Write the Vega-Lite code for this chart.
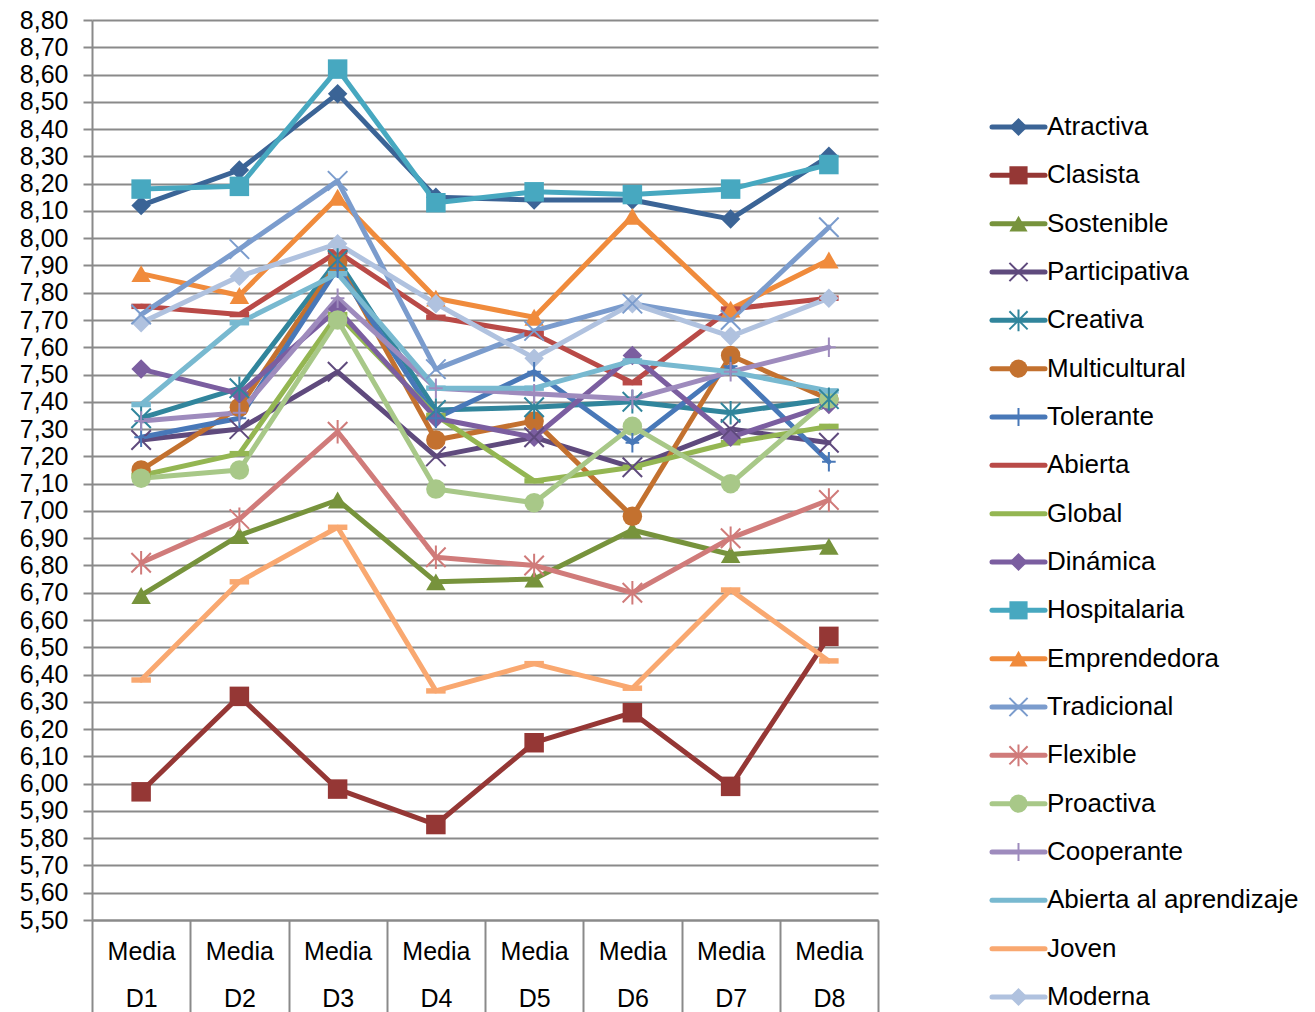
{
"$schema":"https://vega.github.io/schema/vega-lite/v6.json",
"padding":{"left":5,"top":8,"right":0,"bottom":0},
"config":{"view":{"stroke":null},"font":"Liberation Sans","axis":{"labelFont":"Liberation Sans"},"text":{"font":"Liberation Sans"}},
"datasets":{"d":[
{"series":"Atractiva","cat":"Media D1","value":8.12},{"series":"Atractiva","cat":"Media D2","value":8.25},{"series":"Atractiva","cat":"Media D3","value":8.53},{"series":"Atractiva","cat":"Media D4","value":8.15},{"series":"Atractiva","cat":"Media D5","value":8.14},{"series":"Atractiva","cat":"Media D6","value":8.14},{"series":"Atractiva","cat":"Media D7","value":8.07},{"series":"Atractiva","cat":"Media D8","value":8.30},
{"series":"Clasista","cat":"Media D1","value":5.97},{"series":"Clasista","cat":"Media D2","value":6.32},{"series":"Clasista","cat":"Media D3","value":5.98},{"series":"Clasista","cat":"Media D4","value":5.85},{"series":"Clasista","cat":"Media D5","value":6.15},{"series":"Clasista","cat":"Media D6","value":6.26},{"series":"Clasista","cat":"Media D7","value":5.99},{"series":"Clasista","cat":"Media D8","value":6.54},
{"series":"Sostenible","cat":"Media D1","value":6.69},{"series":"Sostenible","cat":"Media D2","value":6.91},{"series":"Sostenible","cat":"Media D3","value":7.04},{"series":"Sostenible","cat":"Media D4","value":6.74},{"series":"Sostenible","cat":"Media D5","value":6.75},{"series":"Sostenible","cat":"Media D6","value":6.93},{"series":"Sostenible","cat":"Media D7","value":6.84},{"series":"Sostenible","cat":"Media D8","value":6.87},
{"series":"Participativa","cat":"Media D1","value":7.26},{"series":"Participativa","cat":"Media D2","value":7.30},{"series":"Participativa","cat":"Media D3","value":7.51},{"series":"Participativa","cat":"Media D4","value":7.20},{"series":"Participativa","cat":"Media D5","value":7.27},{"series":"Participativa","cat":"Media D6","value":7.16},{"series":"Participativa","cat":"Media D7","value":7.30},{"series":"Participativa","cat":"Media D8","value":7.25},
{"series":"Creativa","cat":"Media D1","value":7.34},{"series":"Creativa","cat":"Media D2","value":7.45},{"series":"Creativa","cat":"Media D3","value":7.92},{"series":"Creativa","cat":"Media D4","value":7.37},{"series":"Creativa","cat":"Media D5","value":7.38},{"series":"Creativa","cat":"Media D6","value":7.40},{"series":"Creativa","cat":"Media D7","value":7.36},{"series":"Creativa","cat":"Media D8","value":7.41},
{"series":"Multicultural","cat":"Media D1","value":7.15},{"series":"Multicultural","cat":"Media D2","value":7.38},{"series":"Multicultural","cat":"Media D3","value":7.91},{"series":"Multicultural","cat":"Media D4","value":7.26},{"series":"Multicultural","cat":"Media D5","value":7.33},{"series":"Multicultural","cat":"Media D6","value":6.98},{"series":"Multicultural","cat":"Media D7","value":7.57},{"series":"Multicultural","cat":"Media D8","value":7.41},
{"series":"Tolerante","cat":"Media D1","value":7.27},{"series":"Tolerante","cat":"Media D2","value":7.34},{"series":"Tolerante","cat":"Media D3","value":7.89},{"series":"Tolerante","cat":"Media D4","value":7.34},{"series":"Tolerante","cat":"Media D5","value":7.51},{"series":"Tolerante","cat":"Media D6","value":7.25},{"series":"Tolerante","cat":"Media D7","value":7.53},{"series":"Tolerante","cat":"Media D8","value":7.18},
{"series":"Abierta","cat":"Media D1","value":7.75},{"series":"Abierta","cat":"Media D2","value":7.72},{"series":"Abierta","cat":"Media D3","value":7.95},{"series":"Abierta","cat":"Media D4","value":7.71},{"series":"Abierta","cat":"Media D5","value":7.65},{"series":"Abierta","cat":"Media D6","value":7.47},{"series":"Abierta","cat":"Media D7","value":7.74},{"series":"Abierta","cat":"Media D8","value":7.78},
{"series":"Global","cat":"Media D1","value":7.13},{"series":"Global","cat":"Media D2","value":7.21},{"series":"Global","cat":"Media D3","value":7.72},{"series":"Global","cat":"Media D4","value":7.35},{"series":"Global","cat":"Media D5","value":7.11},{"series":"Global","cat":"Media D6","value":7.16},{"series":"Global","cat":"Media D7","value":7.25},{"series":"Global","cat":"Media D8","value":7.31},
{"series":"Dinámica","cat":"Media D1","value":7.52},{"series":"Dinámica","cat":"Media D2","value":7.43},{"series":"Dinámica","cat":"Media D3","value":7.74},{"series":"Dinámica","cat":"Media D4","value":7.34},{"series":"Dinámica","cat":"Media D5","value":7.27},{"series":"Dinámica","cat":"Media D6","value":7.57},{"series":"Dinámica","cat":"Media D7","value":7.27},{"series":"Dinámica","cat":"Media D8","value":7.39},
{"series":"Hospitalaria","cat":"Media D1","value":8.18},{"series":"Hospitalaria","cat":"Media D2","value":8.19},{"series":"Hospitalaria","cat":"Media D3","value":8.62},{"series":"Hospitalaria","cat":"Media D4","value":8.13},{"series":"Hospitalaria","cat":"Media D5","value":8.17},{"series":"Hospitalaria","cat":"Media D6","value":8.16},{"series":"Hospitalaria","cat":"Media D7","value":8.18},{"series":"Hospitalaria","cat":"Media D8","value":8.27},
{"series":"Emprendedora","cat":"Media D1","value":7.87},{"series":"Emprendedora","cat":"Media D2","value":7.79},{"series":"Emprendedora","cat":"Media D3","value":8.15},{"series":"Emprendedora","cat":"Media D4","value":7.78},{"series":"Emprendedora","cat":"Media D5","value":7.71},{"series":"Emprendedora","cat":"Media D6","value":8.08},{"series":"Emprendedora","cat":"Media D7","value":7.74},{"series":"Emprendedora","cat":"Media D8","value":7.92},
{"series":"Tradicional","cat":"Media D1","value":7.72},{"series":"Tradicional","cat":"Media D2","value":7.96},{"series":"Tradicional","cat":"Media D3","value":8.21},{"series":"Tradicional","cat":"Media D4","value":7.52},{"series":"Tradicional","cat":"Media D5","value":7.66},{"series":"Tradicional","cat":"Media D6","value":7.76},{"series":"Tradicional","cat":"Media D7","value":7.70},{"series":"Tradicional","cat":"Media D8","value":8.04},
{"series":"Flexible","cat":"Media D1","value":6.81},{"series":"Flexible","cat":"Media D2","value":6.97},{"series":"Flexible","cat":"Media D3","value":7.29},{"series":"Flexible","cat":"Media D4","value":6.83},{"series":"Flexible","cat":"Media D5","value":6.80},{"series":"Flexible","cat":"Media D6","value":6.70},{"series":"Flexible","cat":"Media D7","value":6.90},{"series":"Flexible","cat":"Media D8","value":7.04},
{"series":"Proactiva","cat":"Media D1","value":7.12},{"series":"Proactiva","cat":"Media D2","value":7.15},{"series":"Proactiva","cat":"Media D3","value":7.70},{"series":"Proactiva","cat":"Media D4","value":7.08},{"series":"Proactiva","cat":"Media D5","value":7.03},{"series":"Proactiva","cat":"Media D6","value":7.31},{"series":"Proactiva","cat":"Media D7","value":7.10},{"series":"Proactiva","cat":"Media D8","value":7.41},
{"series":"Cooperante","cat":"Media D1","value":7.33},{"series":"Cooperante","cat":"Media D2","value":7.36},{"series":"Cooperante","cat":"Media D3","value":7.78},{"series":"Cooperante","cat":"Media D4","value":7.45},{"series":"Cooperante","cat":"Media D5","value":7.43},{"series":"Cooperante","cat":"Media D6","value":7.41},{"series":"Cooperante","cat":"Media D7","value":7.51},{"series":"Cooperante","cat":"Media D8","value":7.60},
{"series":"\u00a0Abierta al aprendizaje","cat":"Media D1","value":7.39},{"series":"\u00a0Abierta al aprendizaje","cat":"Media D2","value":7.69},{"series":"\u00a0Abierta al aprendizaje","cat":"Media D3","value":7.87},{"series":"\u00a0Abierta al aprendizaje","cat":"Media D4","value":7.45},{"series":"\u00a0Abierta al aprendizaje","cat":"Media D5","value":7.45},{"series":"\u00a0Abierta al aprendizaje","cat":"Media D6","value":7.55},{"series":"\u00a0Abierta al aprendizaje","cat":"Media D7","value":7.51},{"series":"\u00a0Abierta al aprendizaje","cat":"Media D8","value":7.44},
{"series":"Joven","cat":"Media D1","value":6.38},{"series":"Joven","cat":"Media D2","value":6.74},{"series":"Joven","cat":"Media D3","value":6.94},{"series":"Joven","cat":"Media D4","value":6.34},{"series":"Joven","cat":"Media D5","value":6.44},{"series":"Joven","cat":"Media D6","value":6.35},{"series":"Joven","cat":"Media D7","value":6.71},{"series":"Joven","cat":"Media D8","value":6.45},
{"series":"Moderna","cat":"Media D1","value":7.69},{"series":"Moderna","cat":"Media D2","value":7.86},{"series":"Moderna","cat":"Media D3","value":7.98},{"series":"Moderna","cat":"Media D4","value":7.76},{"series":"Moderna","cat":"Media D5","value":7.56},{"series":"Moderna","cat":"Media D6","value":7.76},{"series":"Moderna","cat":"Media D7","value":7.64},{"series":"Moderna","cat":"Media D8","value":7.78}
]},
"data":{"name":"d"},
"spacing":110,
"hconcat":[
{
"width":786,"height":900,
"encoding":{
"x":{"field":"cat","type":"nominal","scale":{"paddingInner":0,"paddingOuter":0},
"axis":{"title":null,"labelAngle":0,"labelExpr":"split(datum.label,' ')","labelFontSize":25,"labelLineHeight":47,"labelPadding":-73,"labelColor":"#000","labelOverlap":false,"tickBand":"extent","tickSize":92,"tickWidth":2,"tickColor":"#8a8a8a","domainColor":"#8a8a8a","domainWidth":2}},
"y":{"field":"value","type":"quantitative","scale":{"domain":[5.5,8.8],"nice":false,"zero":false},
"axis":{"title":null,"values":[5.5,5.6,5.7,5.8,5.9,6.0,6.1,6.2,6.3,6.4,6.5,6.6,6.7,6.8,6.9,7.0,7.1,7.2,7.3,7.4,7.5,7.6,7.7,7.8,7.9,8.0,8.1,8.2,8.3,8.4,8.5,8.6,8.7,8.8],"labelExpr":"replace(format(datum.value,'.2f'),'.',',')","labelFontSize":25,"labelPadding":15,"labelColor":"#000","labelOverlap":false,"tickSize":9,"tickWidth":2,"tickColor":"#8a8a8a","domainColor":"#8a8a8a","domainWidth":2,"grid":true,"gridColor":"#8a8a8a","gridWidth":2,"minExtent":87,"maxExtent":87}}
},
"layer":[
{"mark":{"type":"line","strokeWidth":5,"strokeCap":"round","strokeJoin":"round"},
"encoding":{"color":{"field":"series","type":"nominal","legend":null,
"scale":{"domain":["Atractiva","Clasista","Sostenible","Participativa","Creativa","Multicultural","Tolerante","Abierta","Global","Dinámica","Hospitalaria","Emprendedora","Tradicional","Flexible","Proactiva","Cooperante","\u00a0Abierta al aprendizaje","Joven","Moderna"],
"range":["#3B6496","#953735","#77933C","#5F4A7D","#31859C","#C3712F","#4878B8","#B94A47","#94B652","#7B5EA0","#47A8C0","#F08B3C","#7B9CCD","#D07B7A","#A8C888","#9E8BBD","#78B9D0","#F9A870","#B0C2DF"]}}}},
{"transform":[{"filter":{"field":"series","oneOf":["Atractiva","Clasista","Sostenible","Multicultural","Abierta","Global","Dinámica","Hospitalaria","Emprendedora","Proactiva","\u00a0Abierta al aprendizaje","Joven","Moderna"]}}],
"mark":{"type":"point","filled":true,"opacity":1,"size":380},
"encoding":{"color":{"field":"series","type":"nominal","legend":null},
"shape":{"field":"series","type":"nominal","legend":null,
"scale":{"domain":["Atractiva","Clasista","Sostenible","Participativa","Creativa","Multicultural","Tolerante","Abierta","Global","Dinámica","Hospitalaria","Emprendedora","Tradicional","Flexible","Proactiva","Cooperante","\u00a0Abierta al aprendizaje","Joven","Moderna"],
"range":["diamond","square","triangle-up","M-1,-1L1,1M-1,1L1,-1","M-1,-1L1,1M-1,1L1,-1M0,-1.2L0,1.2","circle","M-0.7,0L0.7,0M0,-1L0,1","M-1,-0.28L1,-0.28L1,0.28L-1,0.28Z","M-1,-0.28L1,-0.28L1,0.28L-1,0.28Z","diamond","square","triangle-up","M-1,-1L1,1M-1,1L1,-1","M-1,-1L1,1M-1,1L1,-1M0,-1.2L0,1.2","circle","M-0.7,0L0.7,0M0,-1L0,1","M-1,-0.28L1,-0.28L1,0.28L-1,0.28Z","M-1,-0.28L1,-0.28L1,0.28L-1,0.28Z","diamond"]}}}},
{"transform":[{"filter":{"field":"series","oneOf":["Participativa","Creativa","Tolerante","Tradicional","Flexible","Cooperante"]}}],
"mark":{"type":"point","filled":false,"opacity":1,"size":380,"strokeWidth":2},
"encoding":{"color":{"field":"series","type":"nominal","legend":null},"shape":{"field":"series","type":"nominal","legend":null}}}
]
},
{
"width":327,"height":1000,
"transform":[{"filter":{"field":"cat","equal":"Media D1"}}],
"encoding":{"y":{"field":"series","type":"nominal","sort":["Atractiva","Clasista","Sostenible","Participativa","Creativa","Multicultural","Tolerante","Abierta","Global","Dinámica","Hospitalaria","Emprendedora","Tradicional","Flexible","Proactiva","Cooperante","\u00a0Abierta al aprendizaje","Joven","Moderna"],"scale":{"type":"point","padding":0,"range":[107,977]},"axis":null}},
"layer":[
{"mark":{"type":"rule","strokeWidth":5,"strokeCap":"round"},
"encoding":{"x":{"datum":2,"type":"quantitative","scale":{"domain":[0,327],"nice":false,"zero":false},"axis":null},"x2":{"datum":55},"color":{"field":"series","type":"nominal","legend":null}}},
{"transform":[{"filter":{"field":"series","oneOf":["Atractiva","Clasista","Sostenible","Multicultural","Dinámica","Hospitalaria","Emprendedora","Proactiva","Moderna"]}}],
"mark":{"type":"point","filled":true,"opacity":1,"size":330},
"encoding":{"x":{"datum":28.5,"type":"quantitative"},"color":{"field":"series","type":"nominal","legend":null},"shape":{"field":"series","type":"nominal","legend":null}}},
{"transform":[{"filter":{"field":"series","oneOf":["Participativa","Creativa","Tolerante","Tradicional","Flexible","Cooperante"]}}],
"mark":{"type":"point","filled":false,"opacity":1,"size":330,"strokeWidth":2},
"encoding":{"x":{"datum":28.5,"type":"quantitative"},"color":{"field":"series","type":"nominal","legend":null},"shape":{"field":"series","type":"nominal","legend":null}}},
{"mark":{"type":"text","align":"left","baseline":"middle","fontSize":26,"color":"#000"},
"encoding":{"x":{"datum":57,"type":"quantitative"},"text":{"field":"series"}}}
]
}
]
}
